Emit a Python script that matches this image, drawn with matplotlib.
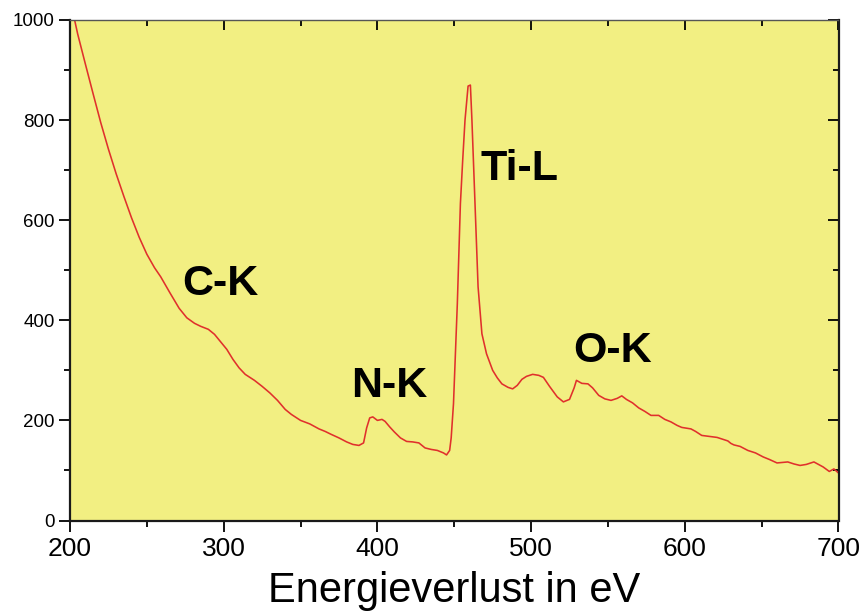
import matplotlib
matplotlib.use("Agg")
import matplotlib.pyplot as plt
from matplotlib.ticker import MultipleLocator

plt.rcParams['font.family'] = ['Liberation Sans', 'DejaVu Sans']

energy = [200, 203, 205, 210, 215, 220, 225, 230, 235, 240, 245, 250, 255, 259, 265, 271, 276,
          281, 285, 290, 294, 298, 302, 306, 310, 314, 320, 325, 330, 335, 340, 344,
          350, 356, 362, 366, 370, 375, 380, 384, 388, 391, 393, 395, 397, 400, 403,
          405, 408, 411, 415, 419, 423, 427, 431, 435, 439, 443, 445, 447, 448, 449.5,
          452, 454, 455.5, 457, 459, 460.5, 461.5, 463.5, 465.5, 468, 471, 475, 478, 481,
          485, 488, 491, 494, 497, 501, 505, 508, 512, 517, 521, 525, 528, 529.5, 533,
          537, 540, 544, 548, 552, 556, 559, 562, 566, 570, 574, 578, 583, 587, 591,
          595, 598, 604, 607, 611, 616, 621, 625, 628, 630, 632, 636, 641, 646, 651,
          655, 660, 667, 671, 675, 679, 684, 687, 690, 694, 697, 700]
intensity = [1035, 1000, 972, 912, 853, 795, 742, 693, 648, 605, 566, 532, 505, 487, 455, 424, 405,
             394, 388, 382, 372, 357, 342, 322, 305, 292, 280, 268, 255, 240, 222, 212,
             200, 193, 183, 178, 172, 165, 157, 152, 150, 155, 185, 205, 207, 200, 202,
             198, 187, 177, 165, 158, 157, 155, 145, 142, 140, 135, 131, 140, 165, 233,
             433, 633, 720, 800, 868, 870, 800, 633, 467, 373, 333, 300, 285, 273,
             266, 263, 270, 282, 288, 292, 290, 286, 268, 247, 237, 242, 265, 280, 274,
             273, 265, 250, 243, 240, 244, 249, 242, 235, 225, 218, 210, 210, 202, 197,
             190, 186, 183, 178, 170, 168, 166, 162, 159, 154, 151, 148, 140, 135, 127,
             122, 115, 117, 113, 110, 112, 117, 112, 107, 98, 103, 95]

edge_labels = ["C-K", "N-K", "Ti-L", "O-K"]
label_x = [297.7, 407.7, 492.3, 553.2]
label_y = [451, 247, 681, 317]

fig = plt.figure(figsize=(8.65, 6.14), dpi=100)
ax = fig.add_axes([70/865, 1 - 520.5/614, (838.5-70)/865, 500.5/614])
ax.set_facecolor('#F2EF82')

ax.plot(energy, intensity, color='#E0302C', lw=1.15)

ax.set_xlim(200, 700)
ax.set_ylim(0, 1000)
ax.xaxis.set_major_locator(MultipleLocator(100))
ax.xaxis.set_minor_locator(MultipleLocator(50))
ax.yaxis.set_major_locator(MultipleLocator(200))
ax.yaxis.set_minor_locator(MultipleLocator(100))

ax.tick_params(axis='x', which='major', direction='out', length=8, width=1.3,
               labelsize=19, pad=4, top=False)
ax.tick_params(axis='x', which='minor', direction='out', length=4.5, width=1.3, top=False)
ax.tick_params(axis='y', which='major', direction='out', length=8, width=1.3,
               labelsize=13.5, pad=3, right=False)
ax.tick_params(axis='y', which='minor', direction='out', length=4.5, width=1.3, right=False)

# inward ticks on top and right via secondary axes
axt = ax.secondary_xaxis('top')
axt.xaxis.set_major_locator(MultipleLocator(100))
axt.xaxis.set_minor_locator(MultipleLocator(50))
axt.tick_params(which='major', direction='in', length=7, width=1.3, labeltop=False)
axt.tick_params(which='minor', direction='in', length=4.5, width=1.3)
axt.spines['top'].set_visible(False)

axr = ax.secondary_yaxis('right')
axr.yaxis.set_major_locator(MultipleLocator(200))
axr.yaxis.set_minor_locator(MultipleLocator(100))
axr.tick_params(which='major', direction='in', length=8, width=1.3, labelright=False)
axr.tick_params(which='minor', direction='in', length=4.5, width=1.3)
axr.spines['right'].set_visible(False)

for s in ['left', 'bottom', 'right']:
    ax.spines[s].set_linewidth(1.6)
    ax.spines[s].set_color('#1a1a1a')
ax.spines['top'].set_linewidth(1.0)
ax.spines['top'].set_color('#555555')

ax.set_xlabel("Energieverlust in eV", fontsize=30, labelpad=7)

for t, x, y in zip(edge_labels, label_x, label_y):
    ax.text(x, y, t, fontsize=31, fontweight='bold', ha='center', va='baseline', color='black')

fig.savefig("out.png", dpi=100)
